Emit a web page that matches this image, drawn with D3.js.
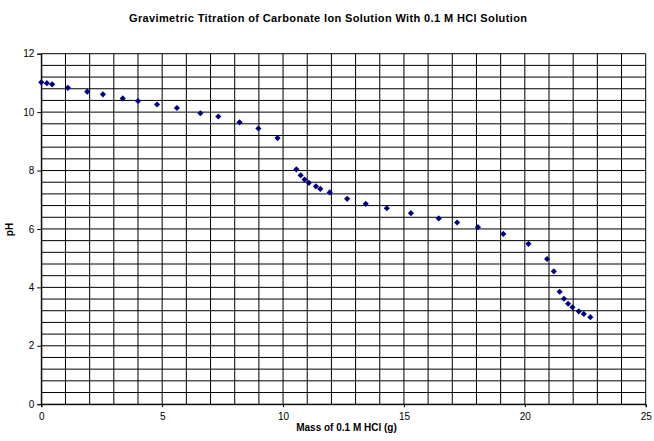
<!DOCTYPE html>
<html>
<head>
<meta charset="utf-8">
<script src="https://cdn.jsdelivr.net/npm/d3@7"></script>
<style>
  body { margin: 0; background: #fff; }
  svg { display: block; font-family: "Liberation Sans", Arial, sans-serif; }
</style>
</head>
<body>
<script>
// mass of HCl added (g) and measured pH
const mass = [0, 0.23, 0.45, 1.1, 1.9, 2.55, 3.37, 4.0, 4.79, 5.61, 6.58, 7.32, 8.2, 8.98, 9.77,
  10.55, 10.73, 10.89, 11.07, 11.36, 11.54, 11.93, 12.65, 13.42, 14.29, 15.29, 16.44, 17.2,
  18.06, 19.11, 20.15, 20.92, 21.2, 21.44, 21.62, 21.79, 21.97, 22.23, 22.44, 22.71]
const pH = [11.02, 10.99, 10.95, 10.83, 10.70, 10.61, 10.47, 10.38, 10.26, 10.14, 9.96, 9.85,
  9.65, 9.44, 9.11, 8.04, 7.84, 7.69, 7.58, 7.46, 7.37, 7.25, 7.03, 6.86, 6.71, 6.54, 6.36,
  6.22, 6.06, 5.83, 5.49, 4.97, 4.55, 3.85, 3.61, 3.44, 3.32, 3.18, 3.09, 2.98]
const xTicks = [0, 5, 10, 15, 20, 25]
const yTicks = [0, 2, 4, 6, 8, 10, 12]

const WIDTH = 654, HEIGHT = 441
const PLOT_L = 41.3, PLOT_R = 645.7, PLOT_T = 53.7, PLOT_B = 404.2

const svg = d3.select('body').append('svg').attr('width', WIDTH).attr('height', HEIGHT)

const x = d3.scaleLinear().domain([0, 25]).range([PLOT_L, PLOT_R])
const y = d3.scaleLinear().domain([0, 12]).range([PLOT_B, PLOT_T])

// grid : every 1 on x, every 0.4 on y
const grid = svg.append('g').attr('stroke', '#000').attr('stroke-width', 1)
grid.selectAll('.vx')
  .data(d3.range(0, 26))
  .enter().append('line')
  .attr('x1', d => x(d)).attr('x2', d => x(d))
  .attr('y1', PLOT_T).attr('y2', PLOT_B)
grid.selectAll('.hy')
  .data(d3.range(0, 31).map(i => i * 0.4))
  .enter().append('line')
  .attr('y1', d => y(d)).attr('y2', d => y(d))
  .attr('x1', PLOT_L).attr('x2', PLOT_R)

const xAxis = svg.append('g')
  .attr('transform', `translate(0,${PLOT_B})`)
  .call(d3.axisBottom(x).tickValues(xTicks).tickSize(3).tickPadding(6))
const yAxis = svg.append('g')
  .attr('transform', `translate(${PLOT_L},0)`)
  .call(d3.axisLeft(y).tickValues(yTicks).tickSize(4).tickPadding(3))

for (const a of [xAxis, yAxis]) {
  a.select('.domain').attr('stroke', '#000')
  a.selectAll('.tick line').attr('stroke', '#000')
  a.selectAll('text').attr('font-size', 10).attr('fill', '#000')
    .attr('font-family', '"Liberation Sans", Arial, sans-serif')
}

// points
const diamond = d3.symbol().type(d3.symbolSquare).size(19)
svg.append('g').selectAll('path')
  .data(mass.map((m, i) => [m, pH[i]]))
  .enter().append('path')
  .attr('d', diamond)
  .attr('transform', d => `translate(${x(d[0])},${y(d[1])}) rotate(45)`)
  .attr('fill', '#000080')

svg.append('text')
  .attr('x', 328).attr('y', 22)
  .attr('text-anchor', 'middle')
  .attr('font-size', 11).attr('font-weight', 'bold')
  .attr('textLength', 398).attr('lengthAdjust', 'spacing')
  .text('Gravimetric Titration of Carbonate Ion Solution With 0.1 M HCl Solution')

svg.append('text')
  .attr('x', 346.5).attr('y', 431)
  .attr('text-anchor', 'middle')
  .attr('font-size', 10).attr('font-weight', 'bold')
  .text('Mass of 0.1 M HCl (g)')

svg.append('text')
  .attr('transform', 'translate(13,229.5) rotate(-90)')
  .attr('text-anchor', 'middle')
  .attr('font-size', 10).attr('font-weight', 'bold')
  .text('pH')
</script>
</body>
</html>
